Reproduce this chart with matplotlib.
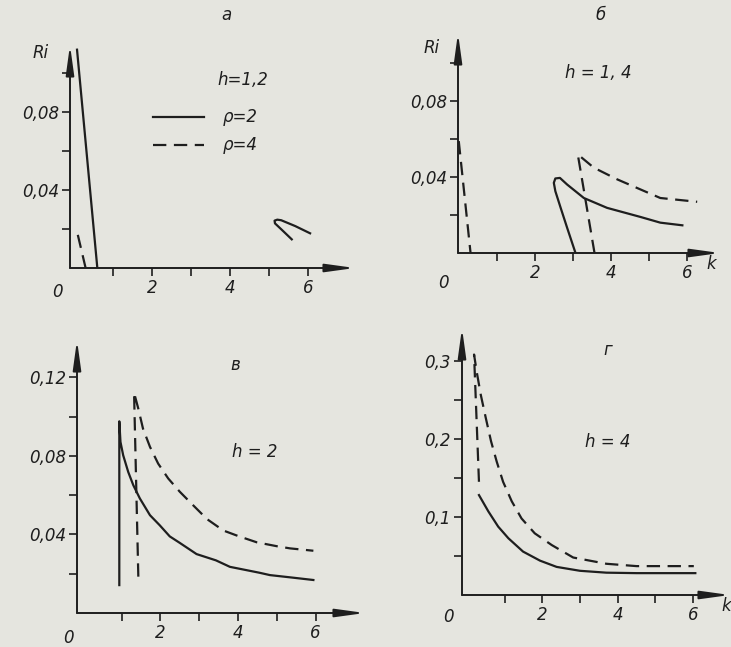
"""Ri(k) curves for four values of h, two values of rho."""
import matplotlib.pyplot as plt

# panel a, h = 1,2
a_solid_k = [0.08, 0.6]
a_solid_ri = [0.112, 0.0]
a_dash_k = [0.1, 0.3]
a_dash_ri = [0.017, 0.0]
a_loop_k = [5.58, 5.33, 5.15, 5.14, 5.21, 5.31, 5.67, 6.05]
a_loop_ri = [0.0147, 0.0195, 0.0229, 0.0243, 0.0248, 0.0245, 0.0215, 0.0178]

# panel b, h = 1,4
b_dash1_k = [0.0, 0.31]
b_dash1_ri = [0.059, 0.0]
b_solid_k = [3.07, 2.85, 2.68, 2.54, 2.50, 2.54, 2.66, 2.85, 3.29, 3.9, 4.78, 5.3, 5.88]
b_solid_ri = [0.0, 0.0133, 0.0238, 0.0326, 0.037, 0.0393, 0.0396, 0.0361, 0.029, 0.0238,
              0.019, 0.016, 0.0146]
b_dash2_k = [3.57, 3.13, 3.55, 4.17, 4.78, 5.3, 6.27]
b_dash2_ri = [0.0, 0.052, 0.045, 0.0388, 0.0335, 0.029, 0.027]

# panel v, h = 2
c_solid_k = [0.94, 0.94, 0.97, 1.04, 1.17, 1.30, 1.47, 1.73, 1.98, 2.24, 2.49, 2.93, 3.43,
             3.79, 4.55, 4.82, 5.41, 5.94]
c_solid_ri = [0.0142, 0.0976, 0.0871, 0.0803, 0.0718, 0.0651, 0.0583, 0.0498, 0.0447, 0.039,
              0.0358, 0.030, 0.0268, 0.0235, 0.0205, 0.0193, 0.0180, 0.0168]
c_dash_k = [1.43, 1.32, 1.43, 1.55, 1.73, 1.94, 2.20, 2.50, 2.84, 3.2, 3.62, 4.0, 4.48,
            5.0, 5.34, 5.94]
c_dash_ri = [0.0185, 0.1122, 0.104, 0.0939, 0.0846, 0.0761, 0.0685, 0.0617, 0.0549, 0.0478,
             0.042, 0.0392, 0.036, 0.0340, 0.0329, 0.0317]

# panel g, h = 4
d_solid_k = [0.32, 0.57, 0.83, 1.10, 1.49, 1.94, 2.38, 3.0, 3.7, 4.5, 6.06]
d_solid_ri = [0.128, 0.107, 0.0876, 0.0727, 0.0556, 0.044, 0.036, 0.031, 0.0286, 0.028, 0.028]
d_dash_k = [0.32, 0.19, 0.26, 0.37, 0.50, 0.64, 0.79, 0.96, 1.19, 1.45, 1.80, 2.25, 2.82,
            3.7, 4.5, 6.02]
d_dash_ri = [0.145, 0.308, 0.286, 0.256, 0.227, 0.197, 0.171, 0.145, 0.120, 0.098, 0.079,
             0.064, 0.048, 0.040, 0.037, 0.037]

x_ticks = [1, 2, 3, 4, 5, 6]
x_labels = ['', '2', '', '4', '', '6']

W, H = 731, 647
BG = '#e5e5df'
INK = '#1e1e1e'
DASH = (0, (6, 3.4))

plt.rcParams['font.family'] = 'DejaVu Sans'
plt.rcParams['font.style'] = 'italic'
plt.rcParams['font.size'] = 12

fig = plt.figure(figsize=(W / 100, H / 100), dpi=100, facecolor=BG)


def txt(x, y, s, **kw):
    fig.text(x / W, 1 - y / H, s, color=INK, ha='center', va='center', **kw)


def panel(left, bottom, right, top, xlim, ylim, yticks, ylabels):
    ax = fig.add_axes([left / W, (H - bottom) / H, (right - left) / W, (bottom - top) / H])
    ax.set_facecolor('none')
    ax.set_xlim(*xlim)
    ax.set_ylim(*ylim)
    for s in ax.spines.values():
        s.set_visible(False)
    arrow = dict(arrowstyle='-|>,head_length=1.6,head_width=0.22', color=INK, lw=1.4,
                 mutation_scale=11, shrinkA=0, shrinkB=0)
    ax.annotate('', xy=(1, 0), xytext=(0, 0), xycoords='axes fraction', arrowprops=arrow)
    ax.annotate('', xy=(0, 1), xytext=(0, 0), xycoords='axes fraction', arrowprops=arrow)
    ax.set_xticks(x_ticks)
    ax.set_xticklabels(x_labels)
    ax.set_yticks(yticks)
    ax.set_yticklabels(ylabels)
    ax.tick_params(direction='out', length=6, width=1.2, color=INK, labelcolor=INK, pad=2,
                   labelsize=12)
    return ax


# a
ax = panel(70, 268, 355, 45, (-0.1, 7.2), (0, 0.1144),
           [0.02, 0.04, 0.06, 0.08, 0.10], ['', '0,04', '', '0,08', ''])
ax.plot(a_solid_k, a_solid_ri, color=INK, lw=1.6)
ax.plot(a_dash_k, a_dash_ri, color=INK, lw=1.6, ls=DASH)
ax.plot(a_loop_k, a_loop_ri, color=INK, lw=1.6)
ax.plot([2.03, 3.33], [0.0774, 0.0774], color=INK, lw=1.6)
ax.plot([2.03, 3.33], [0.063, 0.063], color=INK, lw=1.6, ls=DASH)
txt(240, 117, 'ρ=2')
txt(240, 145, 'ρ=4')
txt(243, 80, 'h=1,2')
txt(226, 15, 'а')
txt(41, 53, 'Ri')
txt(57, 292, '0')

# b
ax = panel(458, 253, 720, 33, (-0.02, 6.87), (0, 0.116),
           [0.02, 0.04, 0.06, 0.08, 0.10], ['', '0,04', '', '0,08', ''])
ax.plot(b_dash1_k, b_dash1_ri, color=INK, lw=1.6, ls=DASH)
ax.plot(b_solid_k, b_solid_ri, color=INK, lw=1.6)
ax.plot(b_dash2_k, b_dash2_ri, color=INK, lw=1.6, ls=DASH)
txt(598, 73, 'h = 1, 4')
txt(601, 15, 'б')
txt(432, 48, 'Ri')
txt(443, 283, '0')
txt(711, 264, 'k')

# v
ax = panel(77, 613, 365, 340, (-0.15, 7.27), (0, 0.139),
           [0.02, 0.04, 0.06, 0.08, 0.10, 0.12], ['', '0,04', '', '0,08', '', '0,12'])
ax.plot(c_solid_k, c_solid_ri, color=INK, lw=1.6)
ax.plot(c_dash_k, c_dash_ri, color=INK, lw=1.6, ls=DASH)
txt(255, 452, 'h = 2')
txt(235, 365, 'в')
txt(68, 638, '0')

# g
ax = panel(462, 595, 730, 328, (-0.13, 6.98), (0, 0.342),
           [0.05, 0.1, 0.15, 0.2, 0.25, 0.3], ['', '0,1', '', '0,2', '', '0,3'])
ax.plot(d_solid_k, d_solid_ri, color=INK, lw=1.6)
ax.plot(d_dash_k, d_dash_ri, color=INK, lw=1.6, ls=DASH)
txt(608, 442, 'h = 4')
txt(608, 350, 'г')
txt(448, 617, '0')
txt(726, 606, 'k')

fig.savefig('out.png', dpi=100, facecolor=BG)
